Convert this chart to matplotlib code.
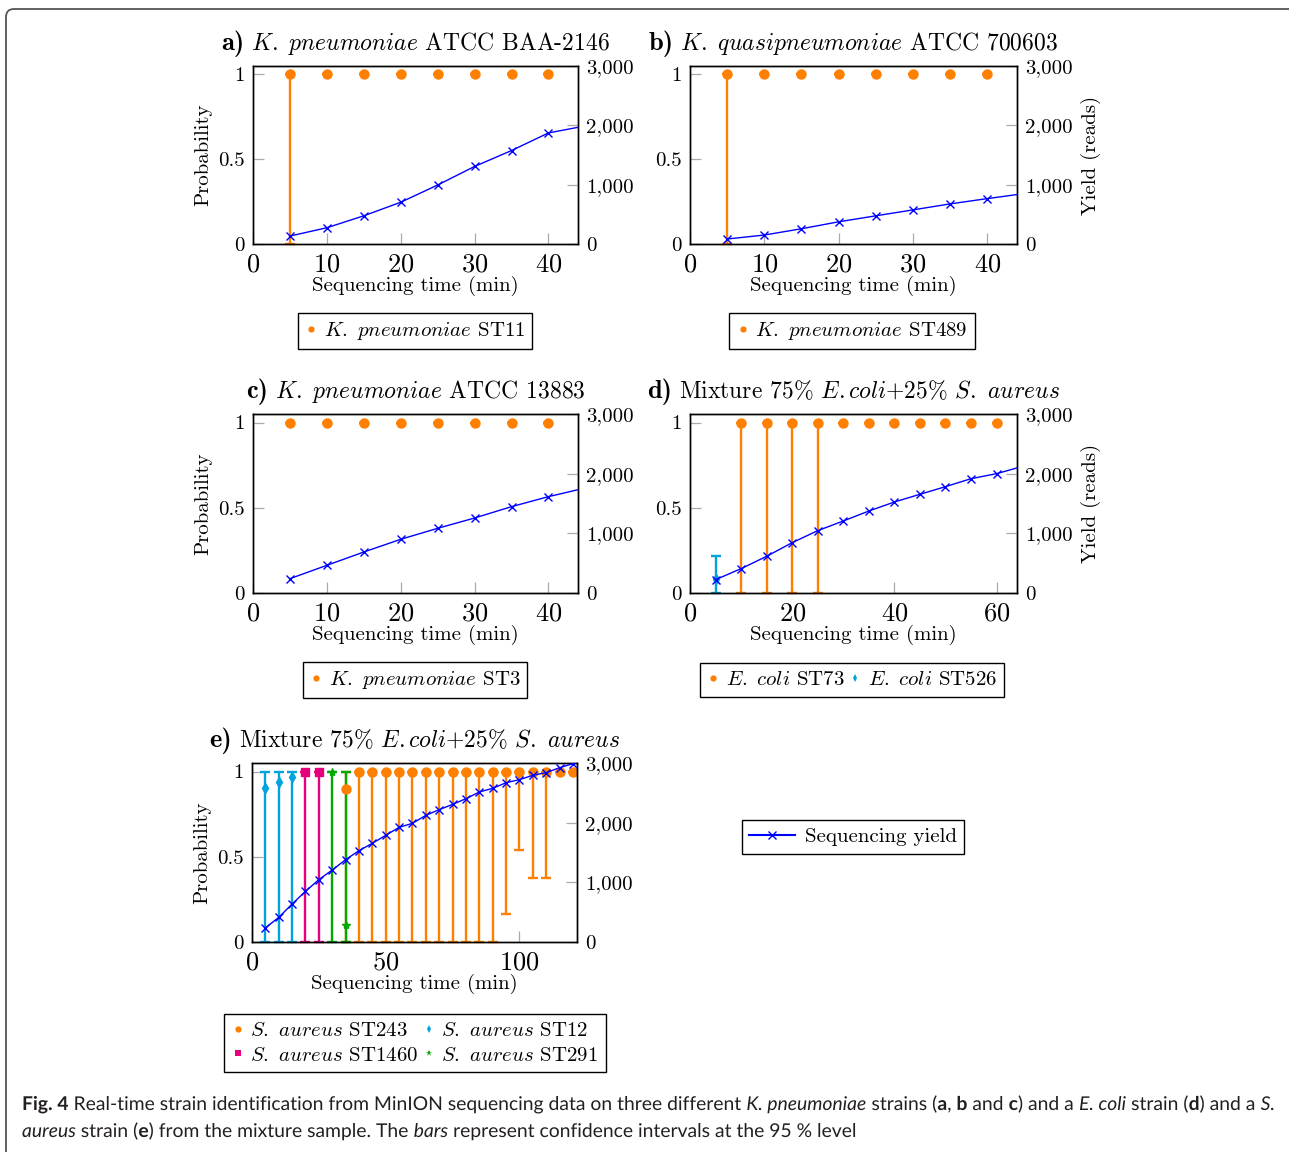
import matplotlib
matplotlib.use('Agg')
import matplotlib.pyplot as plt
import numpy as np
from matplotlib.font_manager import FontProperties
from matplotlib.lines import Line2D
from matplotlib.patches import FancyBboxPatch, PathPatch
from matplotlib.textpath import TextPath
from matplotlib.ticker import FuncFormatter
from matplotlib.transforms import IdentityTransform, Affine2D

plt.rcParams['font.family'] = 'cmr10'
plt.rcParams['mathtext.fontset'] = 'cm'
plt.rcParams['axes.formatter.use_mathtext'] = True
plt.rcParams['axes.unicode_minus'] = False

ORANGE = '#ff8000'
CYAN = '#00a3dc'
MAGENTA = '#e5007e'
GREEN = '#00a800'
BLUE = '#0000ff'

# ---- data ----
# panels a, b, c : K. pneumoniae isolates
t_abc = [5, 10, 15, 20, 25, 30, 35, 40]
t_abc_yield = [5, 10, 15, 20, 25, 30, 35, 40, 45]
yield_a = [134, 274, 475, 704, 994, 1307, 1575, 1872, 1990]
yield_b = [84, 151, 257, 374, 475, 575, 676, 765, 850]
yield_c = [240, 464, 687, 900, 1084, 1257, 1447, 1615, 1760]

prob_st11 = [1, 1, 1, 1, 1, 1, 1, 1]
low_st11 = [0, 1, 1, 1, 1, 1, 1, 1]
high_st11 = [1, 1, 1, 1, 1, 1, 1, 1]

prob_st489 = [1, 1, 1, 1, 1, 1, 1, 1]
low_st489 = [0, 1, 1, 1, 1, 1, 1, 1]
high_st489 = [1, 1, 1, 1, 1, 1, 1, 1]

prob_st3 = [1, 1, 1, 1, 1, 1, 1, 1]
low_st3 = [1, 1, 1, 1, 1, 1, 1, 1]
high_st3 = [1, 1, 1, 1, 1, 1, 1, 1]

# panel d : E. coli in the mixture
t_d_yield = [5, 10, 15, 20, 25, 30, 35, 40, 45, 50, 55, 60, 65]
yield_d = [223, 408, 615, 844, 1045, 1207, 1374, 1525, 1654, 1782, 1916, 2000, 2120]
t_st73 = [10, 15, 20, 25, 30, 35, 40, 45, 50, 55, 60]
prob_st73 = [1, 1, 1, 1, 1, 1, 1, 1, 1, 1, 1]
low_st73 = [0, 0, 0, 0, 1, 1, 1, 1, 1, 1, 1]
high_st73 = [1, 1, 1, 1, 1, 1, 1, 1, 1, 1, 1]
t_st526 = [5]
prob_st526 = [0.08]
low_st526 = [0.0]
high_st526 = [0.216]

# panel e : S. aureus in the mixture
t_e_yield = [5, 10, 15, 20, 25, 30, 35, 40, 45, 50, 55, 60,
             65, 70, 75, 80, 85, 90, 95, 100, 105, 110, 115, 120]
yield_e = [235, 413, 637, 849, 1045, 1207, 1380, 1531, 1654, 1788, 1922, 1989,
           2123, 2218, 2307, 2402, 2514, 2576, 2670, 2721, 2794, 2838, 2922, 2989]
t_st243 = [35, 40, 45, 50, 55, 60, 65, 70, 75, 80, 85, 90, 95, 100, 105, 110, 115, 120]
prob_st243 = [0.898, 1, 1, 1, 1, 1, 1, 1, 1, 1, 1, 1, 1, 1, 1, 1, 1, 1]
low_st243 = [0, 0, 0, 0, 0, 0, 0, 0, 0, 0, 0, 0, 0.164, 0.541, 0.373, 0.373, 1, 1]
high_st243 = [1, 1, 1, 1, 1, 1, 1, 1, 1, 1, 1, 1, 1, 1, 1, 1, 1, 1]
t_st12 = [5, 10, 15]
prob_st12 = [0.902, 0.9375, 0.965]
low_st12 = [0, 0, 0]
high_st12 = [1, 1, 1]
t_st1460 = [20, 25]
prob_st1460 = [1, 1]
low_st1460 = [0, 0]
high_st1460 = [1, 1]
t_st291 = [30, 35]
prob_st291 = [1, 0.098]
low_st291 = [0, 0]
high_st291 = [1, 1]

W, H = 1289, 1152
fig = plt.figure(figsize=(W / 100, H / 100), dpi=100)
renderer = fig.canvas.get_renderer()


def px_rect(left, top, right, bottom):
    return [left / W, 1 - bottom / H, (right - left) / W, (bottom - top) / H]


def panel_title(left, right, top, prefix, rest):
    # bold LaTeX-like "a)" followed by the title, centred over the axes
    cx = (left + right) / 2
    yb = 1 - (top - 16) / H
    p = fig.text(0, yb, prefix, family='cmb10', fontsize=19, va='baseline')
    r = fig.text(0, yb, rest, fontsize=17, va='baseline')
    wp = p.get_window_extent(renderer).width
    wr = r.get_window_extent(renderer).width
    gap = 7
    x0 = cx - (wp + gap + wr) / 2
    p.set_x(x0 / W)
    r.set_x((x0 + wp + gap) / W)


def panel(rect, prefix, title, xmax, xticks, series, ty, yv, left_label=True,
          right_label=False):
    ax = fig.add_axes(px_rect(*rect))
    for t, p, lo, hi, col, mk, ms in series:
        p = np.array(p, dtype=float)
        err = [p - np.array(lo), np.array(hi) - p]
        eb = ax.errorbar(t, p, yerr=err, fmt=mk, color=col, ms=ms, mec=col,
                         elinewidth=1.7, capsize=3.5, capthick=1.7, zorder=2)
        for cap in eb[1]:
            cap.set_clip_on(False)
    ax.set_xlim(0, xmax)
    ax.set_ylim(0, 1.05)
    ax.set_xticks(xticks)
    ax.set_yticks([0, 0.5, 1])
    ax.set_yticklabels(['0', '0.5', '1'])
    ax.tick_params(axis='both', direction='in', length=8, width=0.9,
                   color='#aaaaaa')
    ax.tick_params(axis='x', labelsize=19, pad=6)
    ax.tick_params(axis='y', labelsize=15, pad=6)
    ax.set_xlabel('Sequencing time (min)', fontsize=15, labelpad=0)
    if left_label:
        ax.set_ylabel('Probability', fontsize=15, labelpad=4)
    panel_title(rect[0], rect[2], rect[1], prefix, title)

    ax2 = ax.twinx()
    ax2.plot(ty, yv, color=BLUE, lw=1.0, marker='x', ms=6, mew=1.0, zorder=3)
    ax2.set_ylim(0, 3000)
    ax2.set_yticks([0, 1000, 2000, 3000])
    ax2.yaxis.set_major_formatter(FuncFormatter(lambda v, pos: f'{int(v):,}'))
    ax2.tick_params(axis='y', direction='in', length=8, width=0.9,
                    color='#aaaaaa', labelsize=15, pad=6)
    if right_label:
        ax2.set_ylabel('Yield (reads)', fontsize=15, labelpad=6)
    for a in (ax, ax2):
        for s in a.spines.values():
            s.set_linewidth(1.0)
            s.set_color('black')
    return ax


def dot(col, mk='o', ms=4.5):
    return Line2D([], [], ls='none', marker=mk, color=col, ms=ms, mew=0)


def box_legend(handles, labels, cx, cy, ncol=1, hl=0.6, hp=0.3):
    leg = fig.legend(handles, labels, loc='center',
                     bbox_to_anchor=(cx / W, 1 - cy / H), ncol=ncol,
                     fontsize=15, frameon=True, fancybox=False, framealpha=1,
                     edgecolor='black', handlelength=hl, handletextpad=hp,
                     columnspacing=0.2, borderpad=0.35, labelspacing=0.3,
                     borderaxespad=0)
    leg.get_frame().set_linewidth(1.0)
    return leg


panel((253, 66, 578, 244), 'a)', r'$K.\ pneumoniae$ ATCC BAA-2146',
      44, [0, 10, 20, 30, 40],
      [(t_abc, prob_st11, low_st11, high_st11, ORANGE, 'o', 6.5)],
      t_abc_yield, yield_a)
panel((690, 66, 1017, 244), 'b)', r'$K.\ quasipneumoniae$ ATCC 700603',
      44, [0, 10, 20, 30, 40],
      [(t_abc, prob_st489, low_st489, high_st489, ORANGE, 'o', 6.5)],
      t_abc_yield, yield_b, left_label=False, right_label=True)
panel((253, 414, 578, 593), 'c)', r'$K.\ pneumoniae$ ATCC 13883',
      44, [0, 10, 20, 30, 40],
      [(t_abc, prob_st3, low_st3, high_st3, ORANGE, 'o', 6.5)],
      t_abc_yield, yield_c)
panel((690, 414, 1017, 593), 'd)', r'Mixture 75% $E.coli$+25% $S.\ aureus$',
      64, [0, 20, 40, 60],
      [(t_st73, prob_st73, low_st73, high_st73, ORANGE, 'o', 6.5),
       (t_st526, prob_st526, low_st526, high_st526, CYAN, 'd', 5)],
      t_d_yield, yield_d, left_label=False, right_label=True)
panel((252, 763, 577, 942), 'e)', r'Mixture 75% $E.coli$+25% $S.\ aureus$',
      121.5, [0, 50, 100],
      [(t_st243, prob_st243, low_st243, high_st243, ORANGE, 'o', 6.5),
       (t_st12, prob_st12, low_st12, high_st12, CYAN, 'd', 5),
       (t_st1460, prob_st1460, low_st1460, high_st1460, MAGENTA, 's', 6),
       (t_st291, prob_st291, low_st291, high_st291, GREEN, '*', 6)],
      t_e_yield, yield_e)

box_legend([dot(ORANGE)], [r'$K.\ pneumoniae$ ST11'], 415, 331)
box_legend([dot(ORANGE)], [r'$K.\ pneumoniae$ ST489'], 852, 331)
box_legend([dot(ORANGE)], [r'$K.\ pneumoniae$ ST3'], 415, 680)
box_legend([dot(ORANGE), dot(CYAN, 'd', 4)],
           [r'$E.\ coli$ ST73', r'$E.\ coli$ ST526'], 852, 680, ncol=2)
box_legend([dot(ORANGE), dot(MAGENTA, 's', 4), dot(CYAN, 'd', 4), dot(GREEN, '*', 5)],
           [r'$S.\ aureus$ ST243', r'$S.\ aureus$ ST1460',
            r'$S.\ aureus$ ST12', r'$S.\ aureus$ ST291'], 415, 1043, ncol=2)
box_legend([Line2D([], [], color=BLUE, lw=1.5, marker='x', ms=6, mew=1)],
           ['Sequencing yield'], 853, 837, hl=2.2, hp=0.5)

# outer frame (top and left edge, rounded corner)
frame = FancyBboxPatch((6, -60), 1400, H - 9 + 60,
                       boxstyle='round,pad=0,rounding_size=8',
                       transform=IdentityTransform(), facecolor='none',
                       edgecolor='#555555', lw=1.3)
fig.add_artist(frame)

# caption: condensed sans with mixed bold / italic runs
cap_line1 = [('Fig. 4', 'bold', 'normal'),
             (' Real-time strain identification from MinION sequencing data on three different ', 'normal', 'normal'),
             ('K. pneumoniae', 'normal', 'italic'),
             (' strains (', 'normal', 'normal'), ('a', 'bold', 'normal'),
             (', ', 'normal', 'normal'), ('b', 'bold', 'normal'),
             (' and ', 'normal', 'normal'), ('c', 'bold', 'normal'),
             (') and a ', 'normal', 'normal'), ('E. coli', 'normal', 'italic'),
             (' strain (', 'normal', 'normal'), ('d', 'bold', 'normal'),
             (') and a ', 'normal', 'normal'), ('S.', 'normal', 'italic')]
cap_line2 = [('aureus', 'normal', 'italic'), (' strain (', 'normal', 'normal'),
             ('e', 'bold', 'normal'),
             (') from the mixture sample. The ', 'normal', 'normal'),
             ('bars', 'normal', 'italic'),
             (' represent confidence intervals at the 95 % level', 'normal', 'normal')]

CAP_FONT = 'Lato'
CAP_PX = 19.0


def run_widths(parts):
    ws = []
    for txt, w, st in parts:
        fp = FontProperties(family=CAP_FONT, weight=w, style=st,
                            size=CAP_PX * 72 / fig.dpi)
        ws.append(renderer.get_text_width_height_descent(txt, fp, ismath=False)[0])
    return ws


def rich_line(parts, x0, ybase, sx):
    x = x0
    for (txt, w, st), adv in zip(parts, run_widths(parts)):
        fp = FontProperties(family=CAP_FONT, weight=w, style=st)
        tp = TextPath((0, 0), txt, size=CAP_PX, prop=fp)
        tr = Affine2D().scale(sx, 1).translate(x, H - ybase)
        fig.add_artist(PathPatch(tp, transform=tr, facecolor='#231f20',
                                 edgecolor='none', lw=0))
        x += adv * sx


sx = 1253 / sum(run_widths(cap_line1))
rich_line(cap_line1, 22, 1110, sx)
rich_line(cap_line2, 22, 1137, sx)

fig.savefig('out.png', dpi=100)
